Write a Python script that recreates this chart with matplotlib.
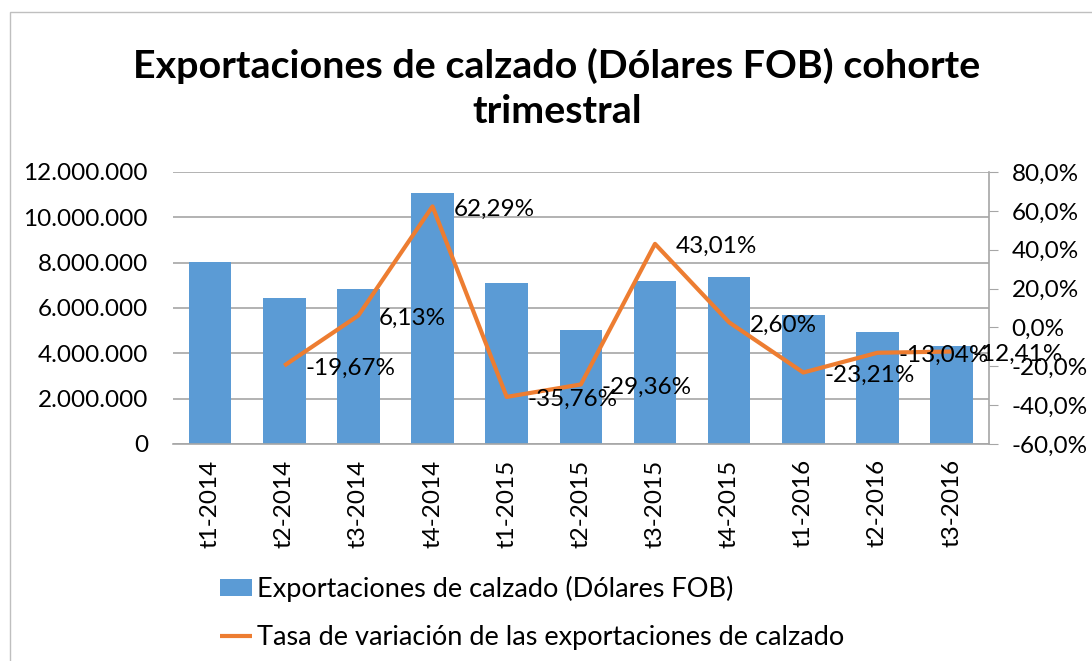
import numpy as np
import matplotlib.pyplot as plt
from matplotlib.patches import Rectangle
from matplotlib.ticker import FuncFormatter

plt.rcParams['font.family'] = ['Lato', 'DejaVu Sans']

trimestres = ['t1-2014', 't2-2014', 't3-2014', 't4-2014', 't1-2015', 't2-2015',
              't3-2015', 't4-2015', 't1-2016', 't2-2016', 't3-2016']
exportaciones = [8010000, 6435000, 6830000, 11084000, 7120000, 5030000,
                 7195000, 7382000, 5669000, 4930000, 4318000]
tasa = [np.nan, -19.67, 6.13, 62.29, -35.76, -29.36, 43.01, 2.60, -23.21, -13.04, -12.41]
etiquetas = ['', '-19,67%', '6,13%', '62,29%', '-35,76%', '-29,36%', '43,01%',
             '2,60%', '-23,21%', '-13,04%', '-12,41%']

azul = '#5B9BD5'
naranja = '#ED7D31'
gris = '#A6A6A6'

fig = plt.figure(figsize=(10.92, 6.61), dpi=100)
ax = fig.add_axes([0.1584, 0.3283, 0.747, 0.4115])
ax2 = ax.twinx()

x = np.arange(len(trimestres))
barras = ax.bar(x, exportaciones, width=0.575, color=azul, zorder=2,
                label='Exportaciones de calzado (Dólares FOB)')
linea, = ax2.plot(x, tasa, color=naranja, lw=3, solid_capstyle='butt',
                  label='Tasa de variación de las exportaciones de calzado')

for xi, yi, t in zip(x, tasa, etiquetas):
    if t:
        ax2.annotate(t, (xi, yi), xytext=(15, -2), textcoords='offset points',
                     ha='left', va='center', fontsize=17.5)

ax.set_xlim(-0.5, len(trimestres) - 0.5)
ax.set_ylim(0, 12000000)
ax.set_yticks(np.arange(0, 12000001, 2000000))
ax.yaxis.set_major_formatter(FuncFormatter(lambda v, p: f'{int(v):,}'.replace(',', '.')))
ax2.set_ylim(-60, 80)
ax2.set_yticks(np.arange(-60, 81, 20))
ax2.yaxis.set_major_formatter(FuncFormatter(lambda v, p: f'{v:.1f}%'.replace('.', ',')))

ax.grid(axis='y', color=gris, lw=1.2, zorder=0)
ax.set_axisbelow(True)
ax.set_xticks(x)
ax.set_xticklabels(trimestres, rotation=90, fontsize=17.5)
ax.tick_params(axis='y', length=0, labelsize=17.5, pad=18)
ax.tick_params(axis='x', length=0, pad=11)
ax2.tick_params(axis='y', length=6.5, color=gris, labelsize=17.5, pad=10)
for s in ['top', 'left', 'right']:
    ax.spines[s].set_visible(False)
for s in ['top', 'left', 'bottom']:
    ax2.spines[s].set_visible(False)
ax.spines['bottom'].set_color(gris)
ax.spines['bottom'].set_linewidth(1.2)
ax2.spines['right'].set_color(gris)
ax2.spines['right'].set_linewidth(1.2)

fig.text(0.51, 0.866, 'Exportaciones de calzado (Dólares FOB) cohorte\ntrimestral',
         ha='center', va='center', fontsize=28.4, fontweight='bold', linespacing=1.36)

fig.legend([barras, linea], [barras.get_label(), linea.get_label()],
           loc='upper left', bbox_to_anchor=(0.192, 0.145), frameon=False,
           fontsize=19.5, handlelength=1.15, handleheight=0.6, handletextpad=0.2,
           labelspacing=0.85, borderaxespad=0)

fig.patches.append(Rectangle((0.009, -0.01), 1.0, 0.992, transform=fig.transFigure,
                             fill=False, edgecolor='#BFBFBF', lw=1))

fig.savefig('out.png', dpi=100)
